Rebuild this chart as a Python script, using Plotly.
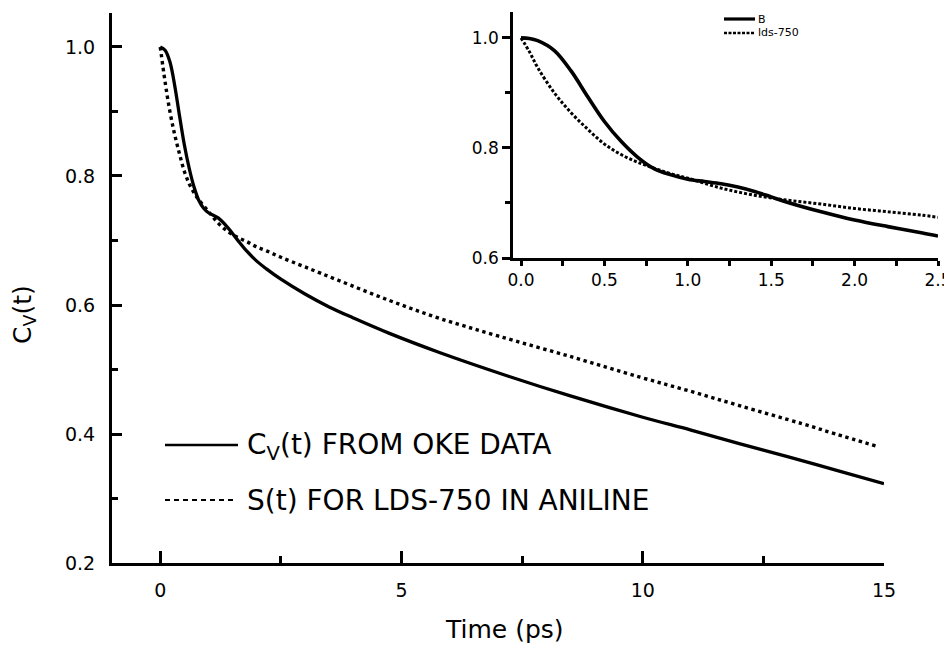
import plotly.graph_objects as go

# ---------------- data ----------------
# Main panel: C_V(t) from OKE data (solid)
t_cv = [0.0, 0.1, 0.2, 0.3, 0.4, 0.5, 0.6, 0.7, 0.8, 0.9, 1.0, 1.2, 1.4, 1.6,
        1.8, 2.0, 2.2, 2.5, 3.0, 3.5, 4.0, 4.75, 5.8, 7.2, 8.5, 10.0, 11.0, 12.0,
        13.0, 14.0, 15.0]
v_cv = [1.0, 0.995, 0.977, 0.940, 0.893, 0.848, 0.812, 0.783, 0.762, 0.750,
        0.743, 0.735, 0.720, 0.701, 0.683, 0.668, 0.656, 0.640, 0.617, 0.597, 0.580,
        0.556, 0.526, 0.490, 0.459, 0.426, 0.406, 0.385, 0.365, 0.344, 0.323]

# Main panel: S(t) for LDS-750 in aniline (dotted)
t_s = [0.0, 0.1, 0.2, 0.3, 0.4, 0.5, 0.6, 0.7, 0.8, 1.0, 1.2, 1.4, 1.6, 1.8, 2.0,
       2.2, 2.5, 3.0, 3.7, 4.75, 5.8, 7.0, 8.55, 9.95, 11.0, 12.0, 13.3, 14.0, 14.85]
v_s = [1.0, 0.946, 0.900, 0.864, 0.834, 0.807, 0.788, 0.774, 0.763, 0.745, 0.727,
       0.714, 0.705, 0.698, 0.690, 0.684, 0.674, 0.659, 0.638, 0.607, 0.579, 0.552,
       0.519, 0.488, 0.466, 0.444, 0.416, 0.400, 0.381]

# Inset: first 2.5 ps
t_b = [0.0, 0.05, 0.1, 0.2, 0.3, 0.4, 0.5, 0.6, 0.7, 0.8, 0.9, 1.0, 1.1, 1.2, 1.3,
       1.4, 1.5, 1.6, 1.8, 2.0, 2.2, 2.4, 2.5]
v_b = [1.0, 0.999, 0.995, 0.977, 0.940, 0.893, 0.848, 0.812, 0.783, 0.762, 0.751,
       0.743, 0.739, 0.735, 0.729, 0.721, 0.711, 0.701, 0.684, 0.669, 0.657, 0.646, 0.640]
t_l = [0.0, 0.05, 0.1, 0.2, 0.3, 0.4, 0.5, 0.6, 0.7, 0.8, 0.9, 1.0, 1.2, 1.4, 1.6,
       1.8, 2.0, 2.2, 2.4, 2.5]
v_l = [1.0, 0.975, 0.946, 0.900, 0.864, 0.834, 0.807, 0.788, 0.774, 0.763, 0.753,
       0.745, 0.727, 0.714, 0.705, 0.698, 0.690, 0.684, 0.678, 0.674]

main_x_ticks = [0, 5, 10, 15]
main_y_ticks = [0.2, 0.4, 0.6, 0.8, 1.0]
main_y_labels = ["0.2", "0.4", "0.6", "0.8", "1.0"]
inset_x_ticks = [0.0, 0.5, 1.0, 1.5, 2.0, 2.5]
inset_x_labels = ["0.0", "0.5", "1.0", "1.5", "2.0", "2.5"]
inset_y_ticks = [0.6, 0.8, 1.0]
inset_y_labels = ["0.6", "0.8", "1.0"]

legend_main = ["C<sub>V</sub>(t) FROM OKE DATA", "S(t) FOR LDS-750 IN ANILINE"]
legend_inset = ["B", "lds-750"]

# ---------------- layout helpers ----------------
# the page body adds an 8 px offset; all target positions below are page pixels
OFF = 8
W, H = 944, 638
ML, MR, MT, MB = 104, 10, 2, 83
PW = W - ML - MR
PH = H - MT - MB


def px(x):
    return (x - OFF - ML) / PW


def py(y):
    return (H - MB - (y - OFF)) / PH


FONT = "DejaVu Sans"

fig = go.Figure()
fig.add_trace(go.Scatter(x=t_cv, y=v_cv, mode="lines", line=dict(color="black", width=3.3),
                         line_shape="spline", xaxis="x", yaxis="y", showlegend=False))
fig.add_trace(go.Scatter(x=t_s, y=v_s, mode="lines",
                         line=dict(color="black", width=3.4, dash="3.4px,3.6px"),
                         line_shape="spline", xaxis="x", yaxis="y", showlegend=False))
fig.add_trace(go.Scatter(x=t_b, y=v_b, mode="lines", line=dict(color="black", width=3.6),
                         line_shape="spline", xaxis="x2", yaxis="y2", showlegend=False))
fig.add_trace(go.Scatter(x=t_l, y=v_l, mode="lines",
                         line=dict(color="black", width=3, dash="3px,2px"),
                         line_shape="spline", xaxis="x2", yaxis="y2", showlegend=False))

axis_common = dict(showgrid=False, zeroline=False, showline=True, linecolor="black",
                   tickcolor="black", automargin=False)

fig.update_layout(
    width=W, height=H,
    margin=dict(l=ML, r=MR, t=MT, b=MB, autoexpand=False),
    paper_bgcolor="white", plot_bgcolor="rgba(0,0,0,0)",
    font=dict(family=FONT, color="black"),
    xaxis=dict(**axis_common, domain=[0, px(884)], range=[-1, 15], linewidth=3,
               tickvals=main_x_ticks, ticktext=[str(v) for v in main_x_ticks],
               ticks="inside", ticklen=12, tickwidth=3,
               minor=dict(ticks="inside", ticklen=7, tickwidth=3, dtick=2.5, tick0=0,
                          tickcolor="black", showgrid=False),
               tickfont=dict(size=19, family=FONT), ticklabelstandoff=8),
    yaxis=dict(**axis_common, domain=[0, py(13)], range=[0.2, 1.0527], linewidth=3,
               tickvals=main_y_ticks, ticktext=main_y_labels,
               ticks="inside", ticklen=10, tickwidth=3,
               minor=dict(ticks="inside", ticklen=6, tickwidth=3, dtick=0.1, tick0=0.2,
                          tickcolor="black", showgrid=False),
               tickfont=dict(size=19, family=FONT), ticklabelstandoff=10),
    xaxis2=dict(**axis_common, domain=[px(513), px(938)], range=[-0.048, 2.5], linewidth=2.5,
                anchor="y2", tickvals=inset_x_ticks, ticktext=inset_x_labels,
                ticks="outside", ticklen=5, tickwidth=2.5,
                minor=dict(ticks="outside", ticklen=5, tickwidth=2.5, dtick=0.25, tick0=0,
                           tickcolor="black", showgrid=False),
                tickfont=dict(size=17, family=FONT)),
    yaxis2=dict(**axis_common, domain=[py(258), py(12)], range=[0.6, 1.047], linewidth=2.5,
                anchor="x2", tickvals=inset_y_ticks, ticktext=inset_y_labels,
                ticks="outside", ticklen=8, tickwidth=2.5,
                minor=dict(ticks="outside", ticklen=5, tickwidth=2.5, dtick=0.1, tick0=0.6,
                           tickcolor="black", showgrid=False),
                tickfont=dict(size=17, family=FONT)),
)

# axis titles
fig.add_annotation(text="Time (ps)", xref="paper", yref="paper", x=px(504), y=py(630),
                   showarrow=False, xanchor="center", yanchor="middle",
                   font=dict(size=25, family=FONT))
fig.add_annotation(text="C<sub>V</sub>(t)", xref="paper", yref="paper", x=px(24), y=py(315),
                   showarrow=False, xanchor="center", yanchor="middle", textangle=-90,
                   font=dict(size=25, family=FONT))

# main legend
fig.add_shape(type="line", xref="paper", yref="paper", x0=px(165), x1=px(238),
              y0=py(445), y1=py(445), line=dict(color="black", width=2.6))
fig.add_shape(type="line", xref="paper", yref="paper", x0=px(165), x1=px(236),
              y0=py(500), y1=py(500), line=dict(color="black", width=2.2, dash="5px,4px"))
fig.add_annotation(text=legend_main[0], xref="paper", yref="paper", x=px(245), y=py(446),
                   showarrow=False, xanchor="left", yanchor="middle",
                   font=dict(size=28, family=FONT))
fig.add_annotation(text=legend_main[1], xref="paper", yref="paper", x=px(245), y=py(500),
                   showarrow=False, xanchor="left", yanchor="middle",
                   font=dict(size=28, family=FONT))

# inset legend
fig.add_shape(type="line", xref="paper", yref="paper", x0=px(724), x1=px(755),
              y0=py(19), y1=py(19), line=dict(color="black", width=3.2))
fig.add_shape(type="line", xref="paper", yref="paper", x0=px(724), x1=px(755),
              y0=py(33), y1=py(33), line=dict(color="black", width=2.6, dash="3px,1.5px"))
fig.add_annotation(text=legend_inset[0], xref="paper", yref="paper", x=px(756), y=py(19),
                   showarrow=False, xanchor="left", yanchor="middle",
                   font=dict(size=11, family=FONT))
fig.add_annotation(text=legend_inset[1], xref="paper", yref="paper", x=px(756), y=py(33),
                   showarrow=False, xanchor="left", yanchor="middle",
                   font=dict(size=11, family=FONT))

fig.write_html("out.html")
